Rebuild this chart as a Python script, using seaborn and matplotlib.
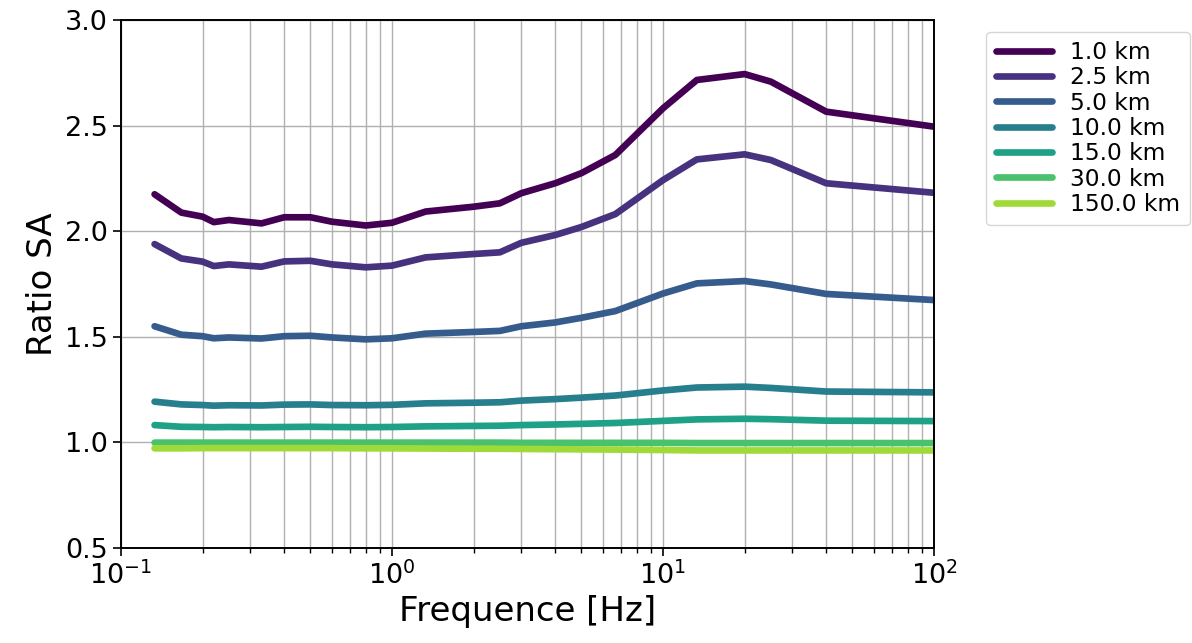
import numpy as np
import pandas as pd
import matplotlib
matplotlib.use("Agg")
import matplotlib.pyplot as plt
import seaborn as sns

# Frequencies [Hz] at which the spectral acceleration ratio is evaluated
freqs = [0.133, 0.167, 0.2, 0.22, 0.25, 0.33, 0.4, 0.5, 0.6, 0.8, 1.0, 1.33,
         2.0, 2.5, 3.0, 4.0, 5.0, 6.67, 10.0, 13.33, 20.0, 25.0, 40.0, 100.0]

distances = ["1.0 km", "2.5 km", "5.0 km", "10.0 km", "15.0 km", "30.0 km", "150.0 km"]

ratio_1km = [2.175, 2.088, 2.069, 2.043, 2.053, 2.037, 2.066, 2.066, 2.045, 2.027, 2.040, 2.093,
             2.116, 2.132, 2.180, 2.227, 2.275, 2.361, 2.582, 2.716, 2.744, 2.708, 2.566, 2.495]
ratio_2_5km = [1.939, 1.871, 1.856, 1.835, 1.843, 1.832, 1.857, 1.860, 1.843, 1.829, 1.837, 1.876,
               1.892, 1.900, 1.945, 1.982, 2.020, 2.081, 2.242, 2.340, 2.364, 2.337, 2.227, 2.182]
ratio_5km = [1.550, 1.510, 1.503, 1.493, 1.497, 1.492, 1.503, 1.505, 1.497, 1.488, 1.493, 1.515,
             1.523, 1.528, 1.550, 1.568, 1.590, 1.622, 1.705, 1.753, 1.764, 1.748, 1.703, 1.674]
ratio_10km = [1.193, 1.180, 1.177, 1.174, 1.176, 1.175, 1.179, 1.180, 1.177, 1.176, 1.178, 1.185,
              1.188, 1.190, 1.198, 1.205, 1.212, 1.222, 1.246, 1.260, 1.264, 1.258, 1.241, 1.237]
ratio_15km = [1.082, 1.074, 1.073, 1.072, 1.073, 1.072, 1.073, 1.074, 1.073, 1.072, 1.073, 1.076,
              1.078, 1.079, 1.082, 1.085, 1.088, 1.092, 1.102, 1.109, 1.112, 1.110, 1.103, 1.101]
ratio_30km = [0.999, 0.999, 0.999, 0.999, 0.999, 0.999, 0.999, 0.999, 0.999, 0.999, 0.999, 0.999,
              0.999, 0.999, 0.998, 0.998, 0.998, 0.998, 0.998, 0.997, 0.997, 0.997, 0.997, 0.997]
ratio_150km = [0.972, 0.972, 0.973, 0.973, 0.973, 0.973, 0.973, 0.973, 0.973, 0.972, 0.972, 0.971,
               0.970, 0.970, 0.969, 0.968, 0.967, 0.966, 0.964, 0.962, 0.962, 0.962, 0.962, 0.962]

series = [ratio_1km, ratio_2_5km, ratio_5km, ratio_10km, ratio_15km, ratio_30km, ratio_150km]

sns.set_style("ticks")
plt.rcParams["font.family"] = ["DejaVu Sans"]
plt.rcParams["text.color"] = "black"
plt.rcParams["axes.labelcolor"] = "black"
plt.rcParams["xtick.color"] = "black"
plt.rcParams["ytick.color"] = "black"

fig = plt.figure(figsize=(11.92, 6.43), dpi=100)
ax = fig.add_axes([0.1015, 0.1477, 0.6821, 0.8212])

colors = [plt.cm.viridis(i / 7) for i in range(7)]

for name, vals, col in zip(distances, series, colors):
    df = pd.DataFrame({"f": freqs, "r": vals})
    sns.lineplot(data=df, x="f", y="r", ax=ax, color=col, linewidth=4.8, label=name)

ax.set_xscale("log")
ax.set_xlim(0.1, 100)
ax.set_ylim(0.5, 3.0)
ax.set_yticks([0.5, 1.0, 1.5, 2.0, 2.5, 3.0])
ax.grid(True, which="both", axis="x", color="#b0b0b0", linewidth=1.0)
ax.grid(True, which="major", axis="y", color="#b0b0b0", linewidth=1.0)
ax.set_axisbelow(True)

for sp in ax.spines.values():
    sp.set_visible(True)
    sp.set_color("black")
    sp.set_linewidth(1.4)

ax.tick_params(axis="both", which="major", labelsize=19.5, length=6, width=1.2,
               colors="black", labelcolor="black")
ax.tick_params(axis="x", which="minor", length=3.5, width=1.0, colors="black")

ax.set_xlabel("Frequence [Hz]", fontsize=24.5, color="black")
ax.set_ylabel("Ratio SA", fontsize=24.5, color="black")

leg = ax.legend(loc="upper left", bbox_to_anchor=(1.05, 1.0), fontsize=16.8,
                handlelength=2.4, labelspacing=0.1, frameon=True)
for t in leg.get_texts():
    t.set_color("black")

fig.savefig("out.png", dpi=100)
